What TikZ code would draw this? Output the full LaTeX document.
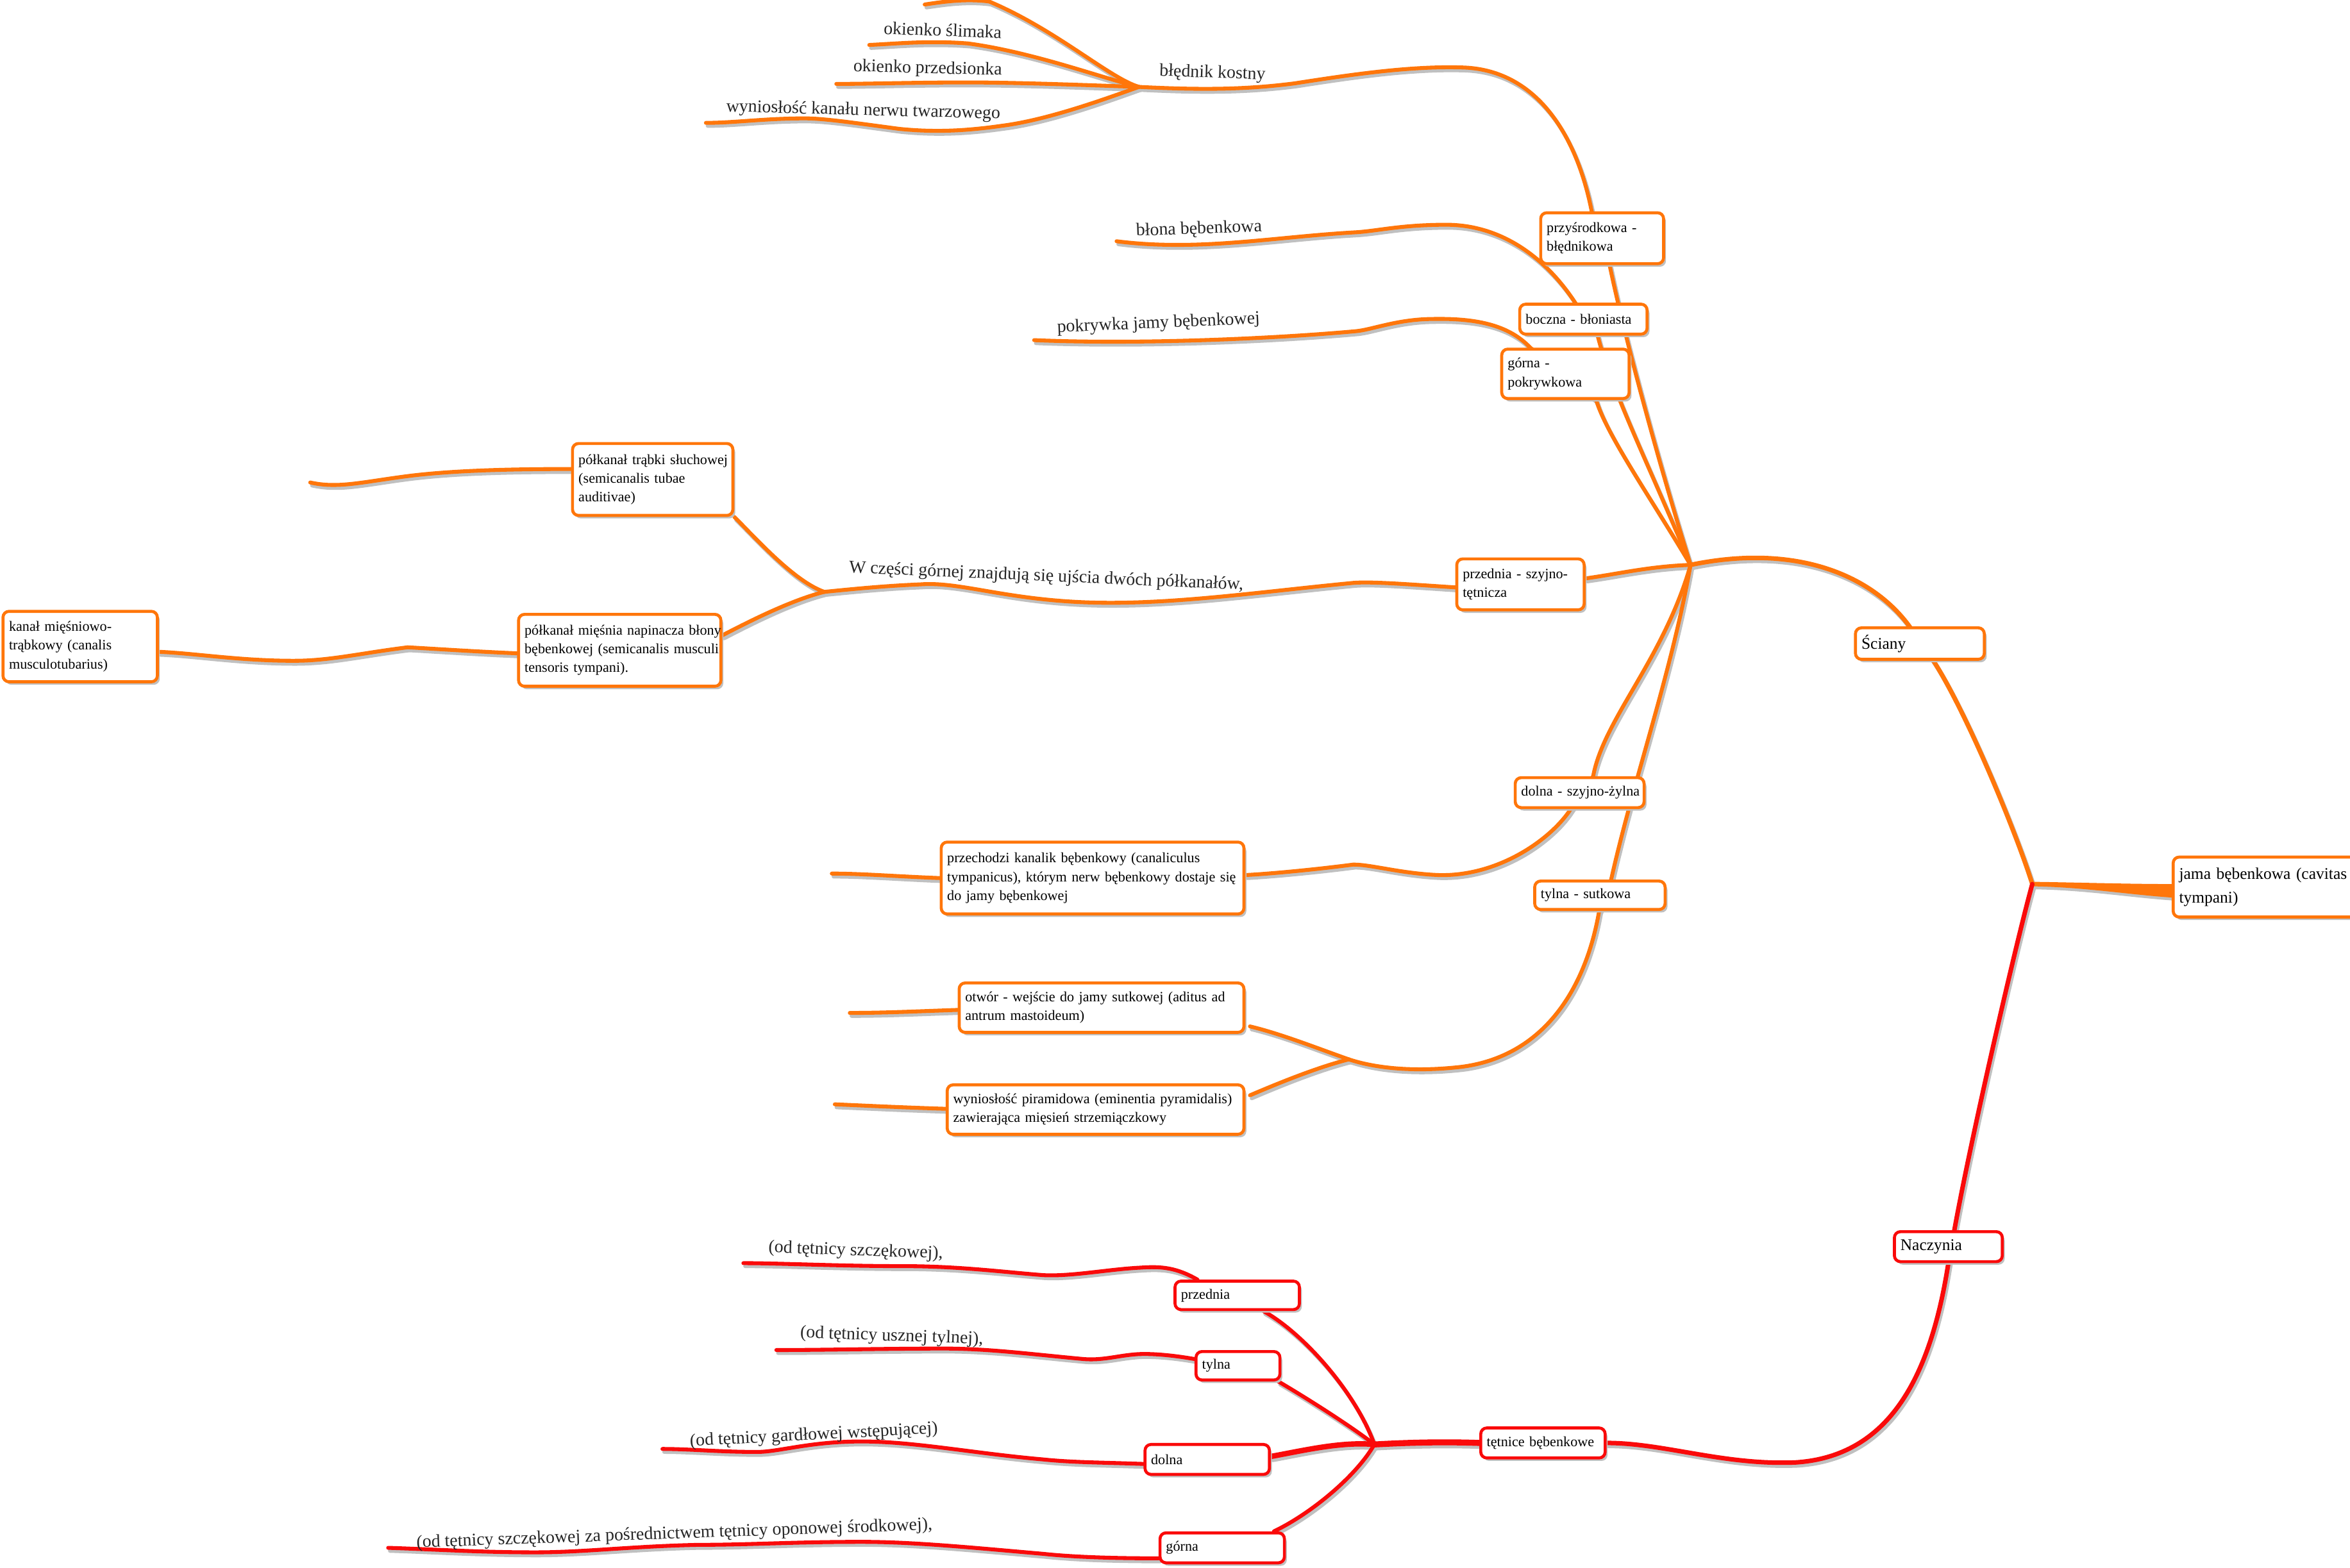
\documentclass[tikz,border=0pt]{standalone}
\usepackage{fontspec}
\setmainfont{Liberation Serif}
\usetikzlibrary{shadows,calc}
\definecolor{orC}{RGB}{255,118,10}
\definecolor{rdC}{RGB}{250,10,10}
\definecolor{shC}{RGB}{192,192,192}
\pgfdeclarelayer{back}
\pgfdeclarelayer{bg}
\pgfsetlayers{back,bg,main}
\tikzset{
  wbox/.style={draw=orC, line width=0.1cm, fill=white, rounded corners=0.2cm,
    anchor=north west, align=left, inner xsep=0.18cm, inner ysep=0pt,
    font=\fontsize{13.5}{17.8}\selectfont,
    drop shadow={shadow xshift=0.08cm, shadow yshift=-0.1cm, fill=shC, opacity=1}},
  rbox/.style={wbox, draw=rdC},
  bigtext/.style={font=\fontsize{15.5}{22.8}\selectfont},
  lbl/.style={font=\fontsize{17}{20}\selectfont, inner sep=0pt, text=black!85},
  oedge/.style={draw=orC, line width=0.13cm, line cap=round},
  redge/.style={oedge, draw=rdC},
  shedge/.style={draw=shC, line width=0.13cm, line cap=round},
}
% all connectors; #1 = style of orange ones, #2 = style of red ones, #3 = fill of the root taper
\newcommand\mmedges[3]{%
\fill[#3] ($(root.west)+(0,-2)$) -- ($(root.west)+(0,7)$) .. controls (1420,597) and (1390,592) .. ($(h0)+(0,1.5)$) -- ($(h0)+(0,-1.5)$) .. controls (1390,589) and (1420,590) .. cycle;
\draw[#1, line width=0.15cm] (h0) .. controls (1345,555) and (1312,475) .. ($(sciany.south west)+(53,0)$) -- ($(sciany.north west)+(37,0)$) .. controls (1250,385) and (1200,362) .. (h1);
\draw[#2, line width=0.15cm] (h0) .. controls (1345,630) and (1315,760) .. ($(naczynia.north west)+(41,0)$) -- ($(naczynia.south west)+(37,0)$) .. controls (1288,920) and (1260,972) .. (1198,976) .. controls (1150,978) and (1110,963) .. (tetnice.east);
\draw[#1] (h1) .. controls (1110,320) and (1085,230) .. ($(przysr.south west)+(47,0)$) -- ($(przysr.north west)+(35,0)$) .. controls (1052,90) and (1025,46) .. (975,45) .. controls (940,44) and (900,50) .. (864,55.6) .. controls (830,60) and (800,60) .. (h2);
\draw[#1] (h2) .. controls (740,52) and (705,20) .. (660,1) .. controls (645,-1) and (630,1) .. (eTop);
\draw[#1] (h2) .. controls (735,52) and (690,35) .. (646,29) .. controls (620,27) and (600,29) .. (eSlim);
\draw[#1] (h2) .. controls (730,57) and (680,55) .. (645,55) .. controls (610,55) and (580,56) .. (ePrz);
\draw[#1] (h2) .. controls (740,65) and (700,80) .. (668,84) .. controls (640,88) and (620,88) .. (600,86) .. controls (570,82) and (550,79) .. (537,79) .. controls (510,79) and (490,82) .. (eWyn);
\draw[#1] (h1) .. controls (1100,310) and (1075,260) .. ($(boczna.south west)+(53,0)$) -- ($(boczna.north west)+(38,0)$) .. controls (1030,170) and (1000,150) .. (965,150) .. controls (935,150) and (920,154) .. (905,155) .. controls (850,158) and (800,168) .. (eBlona);
\draw[#1] (h1) .. controls (1100,330) and (1072,290) .. ($(gorna.south west)+(64,0)$) -- ($(gorna.north west)+(20,0)$) .. controls (1005,215) and (980,212) .. (951,213) .. controls (930,214) and (915,220) .. (905,221) .. controls (850,226) and (760,230) .. (ePokr);
\draw[#1] (h1) .. controls (1100,378) and (1080,383) .. ($(przednia.north east)+(0,14)$);
\draw[#1] ($(przednia.north west)+(0,20)$) .. controls (940,390) and (915,388) .. (903,389) .. controls (840,395) and (780,404) .. (725,402) .. controls (670,400) and (640,388) .. (614,390) .. controls (590,391) and (570,393) .. (h3);
\draw[#1] (h3) .. controls (530,388) and (505,360) .. (trabki.south east);
\draw[#1] (h3) .. controls (530,400) and (505,412) .. ($(miesnia.north east)+(0,15)$);
\draw[#1] ($(trabki.north west)+(0,18)$) .. controls (340,313) and (300,314) .. (270,318) .. controls (240,322) and (225,326) .. (eTrab);
\draw[#1] ($(miesnia.north west)+(0,27)$) .. controls (320,435) and (290,433) .. (272,432) .. controls (240,436) and (220,441) .. (196,441) .. controls (160,441) and (130,436) .. ($(kanal.north east)+(0,28)$);
\draw[#1] (h1) .. controls (1110,440) and (1070,480) .. ($(dolna.north west)+(53,0)$) -- ($(dolna.south west)+(38,0)$) .. controls (1035,560) and (1000,585) .. (960,584) .. controls (935,583) and (915,577) .. (903,577) .. controls (880,580) and (850,583) .. ($(przech.north east)+(0,23)$);
\draw[#1] ($(przech.north west)+(0,25)$) .. controls (600,585) and (575,583) .. (ePrzech);
\draw[#1] (h1) .. controls (1115,450) and (1090,520) .. ($(tylna.north west)+(52,0)$) -- ($(tylna.south west)+(44,0)$) .. controls (1058,660) and (1030,705) .. (975,712) .. controls (940,716) and (915,712) .. (h4);
\draw[#1] (h4) .. controls (880,700) and (855,690) .. ($(otwor.south east)+(3,-5)$);
\draw[#1] (h4) .. controls (880,712) and (855,722) .. ($(piram.north east)+(3,8)$);
\draw[#1] ($(otwor.north west)+(0,19)$) .. controls (610,675) and (590,676) .. (eOtw);
\draw[#1] ($(piram.north west)+(0,17)$) .. controls (600,739) and (580,738) .. (ePir);
\draw[#2, line width=0.2cm] (tetnice.west) .. controls (960,962) and (935,963) .. (h5);
\draw[#2] (h5) .. controls (905,930) and (870,890) .. ($(rprzed.south west)+(60,0)$);
\draw[#2] ($(rprzed.north west)+(16,0)$) .. controls (785,846) and (775,845) .. (761,846) .. controls (740,847) and (715,852) .. (696,851) .. controls (670,849) and (640,845) .. (603,845) .. controls (560,845) and (520,843) .. (eRp);
\draw[#2] (h5) .. controls (903,953) and (875,935) .. ($(rtyl.south east)+(-2,0)$);
\draw[#2] ($(rtyl.north west)+(0,6)$) .. controls (780,904) and (765,903) .. (756,904) .. controls (745,905) and (735,908) .. (723,907) .. controls (690,904) and (660,900) .. (630,900) .. controls (590,900) and (550,901) .. (eRt);
\draw[#2, line width=0.18cm] (h5) .. controls (895,962) and (870,968) .. ($(rdol.north east)+(0,9)$);
\draw[#2] ($(rdol.north west)+(0,14)$) .. controls (735,976) and (715,976) .. (696,974) .. controls (650,970) and (610,962) .. (575,962) .. controls (540,962) and (520,969) .. (505,969) .. controls (480,969) and (460,967) .. (eRd);
\draw[#2] (h5) .. controls (905,985) and (875,1010) .. ($(rgor.north east)+(-8,0)$);
\draw[#2] ($(rgor.north west)+(0,18)$) .. controls (740,1040) and (715,1039) .. (696,1037) .. controls (650,1033) and (610,1029) .. (575,1029) .. controls (530,1029) and (500,1031) .. (466,1031) .. controls (420,1032) and (390,1036) .. (357,1036) .. controls (320,1036) and (290,1034) .. (eRg);
}
\begin{document}
\begin{tikzpicture}[x=0.05cm, y=-0.05cm]
\useasboundingbox (0,0) rectangle (1568,1046.4);
\begin{pgfonlayer}{back}
\fill[white] (0,0) rectangle (1568,1046.4);
\end{pgfonlayer}

% ---------- nodes ----------
\node[wbox, bigtext, minimum width=8.6cm, minimum height=2cm, text width=8.2cm] (root) at (1449,571) {\mbox{jama bębenkowa (cavitas}\\tympani)};
\node[wbox, bigtext, minimum width=4.3cm, minimum height=1.05cm, text width=3.9cm] (sciany) at (1237,418) {Ściany};
\node[rbox, bigtext, minimum width=3.6cm, minimum height=1.0cm, text width=3.2cm] (naczynia) at (1263,821) {Naczynia};

\node[wbox, minimum width=4.1cm, minimum height=1.7cm, text width=3.7cm] (przysr) at (1027,141) {\mbox{przyśrodkowa -}\\błędnikowa};
\node[wbox, minimum width=4.25cm, minimum height=1.0cm, text width=3.85cm] (boczna) at (1013,202) {\mbox{boczna - błoniasta}};
\node[wbox, minimum width=4.25cm, minimum height=1.65cm, text width=3.85cm] (gorna) at (1001,232) {górna -\\pokrywkowa};
\node[wbox, minimum width=4.25cm, minimum height=1.7cm, text width=3.85cm] (przednia) at (971,372) {\mbox{przednia - szyjno-}\\tętnicza};
\node[wbox, minimum width=4.3cm, minimum height=1.0cm, text width=3.9cm] (dolna) at (1010,518) {\mbox{dolna - szyjno-żylna}};
\node[wbox, minimum width=4.35cm, minimum height=0.95cm, text width=3.95cm] (tylna) at (1023,587) {\mbox{tylna - sutkowa}};

\node[wbox, minimum width=5.35cm, minimum height=2.4cm, text width=4.95cm] (trabki) at (381,295) {\mbox{półkanał trąbki słuchowej}\\\mbox{(semicanalis tubae}\\auditivae)};
\node[wbox, minimum width=6.75cm, minimum height=2.4cm, text width=6.35cm] (miesnia) at (345,409) {\mbox{półkanał mięśnia napinacza błony}\\\mbox{bębenkowej (semicanalis musculi}\\\mbox{tensoris tympani).}};
\node[wbox, minimum width=5.15cm, minimum height=2.35cm, text width=4.75cm] (kanal) at (1,407) {\mbox{kanał mięśniowo-}\\\mbox{trąbkowy (canalis}\\musculotubarius)};
\node[wbox, minimum width=10.1cm, minimum height=2.4cm, text width=9.7cm] (przech) at (627,561) {\mbox{przechodzi kanalik bębenkowy (canaliculus}\\\mbox{tympanicus), którym nerw bębenkowy dostaje się}\\\mbox{do jamy bębenkowej}};
\node[wbox, minimum width=9.5cm, minimum height=1.65cm, text width=9.1cm] (otwor) at (639,655) {\mbox{otwór - wejście do jamy sutkowej (aditus ad}\\\mbox{antrum mastoideum)}};
\node[wbox, minimum width=9.9cm, minimum height=1.65cm, text width=9.5cm] (piram) at (631,723) {\mbox{wyniosłość piramidowa (eminentia pyramidalis)}\\\mbox{zawierająca mięsień strzemiączkowy}};

\node[rbox, minimum width=4.15cm, minimum height=1.0cm, text width=3.75cm] (tetnice) at (987,952) {\mbox{tętnice bębenkowe}};
\node[rbox, minimum width=4.15cm, minimum height=0.95cm, text width=3.75cm] (rprzed) at (783,854) {przednia};
\node[rbox, minimum width=2.8cm, minimum height=0.95cm, text width=2.4cm] (rtyl) at (797,901) {tylna};
\node[rbox, minimum width=4.15cm, minimum height=1.0cm, text width=3.75cm] (rdol) at (763,963) {dolna};
\node[rbox, minimum width=4.15cm, minimum height=1.0cm, text width=3.75cm] (rgor) at (773,1022) {górna};

% ---------- branch labels ----------
\node[lbl, rotate=-2] (lslim) at (629,20) {okienko ślimaka};
\node[lbl, rotate=-1.5] (lprzed) at (619,46) {okienko przedsionka};
\node[lbl, rotate=-1.5] (lwyn) at (576,74) {wyniosłość kanału nerwu twarzowego};
\node[lbl, rotate=-2] (lbled) at (809,49) {błędnik kostny};
\node[lbl, rotate=2] (lblona) at (800,153) {błona bębenkowa};
\node[lbl, rotate=2.5] (lpokr) at (773,216) {pokrywka jamy bębenkowej};
\node[lbl, rotate=-2.5] (lczesci) at (698,385) {W części górnej znajdują się ujścia dwóch półkanałów,};
\node[lbl, rotate=-2] (lr1) at (571,835) {(od tętnicy szczękowej),};
\node[lbl, rotate=-2] (lr2) at (595,892) {(od tętnicy usznej tylnej),};
\node[lbl, rotate=3] (lr3) at (543,958) {(od tętnicy gardłowej wstępującej)};
\node[lbl, rotate=2] (lr4) at (450,1024) {(od tętnicy szczękowej za pośrednictwem tętnicy oponowej środkowej),};

% ---------- hubs and free ends ----------
\coordinate (h0) at (1356,590);
\coordinate (h1) at (1128,377);
\coordinate (h2) at (760,58);
\coordinate (h3) at (550,395);
\coordinate (h4) at (900,707);
\coordinate (h5) at (917,964);
\coordinate (eTop) at (617,3);
\coordinate (eSlim) at (580,30);
\coordinate (ePrz) at (558,56);
\coordinate (eWyn) at (471,82);
\coordinate (eBlona) at (745,161);
\coordinate (ePokr) at (690,227);
\coordinate (eTrab) at (207,322);
\coordinate (ePrzech) at (555,583);
\coordinate (eOtw) at (567,676);
\coordinate (ePir) at (557,737);
\coordinate (eRp) at (496,843);
\coordinate (eRt) at (518,901);
\coordinate (eRd) at (442,967);
\coordinate (eRg) at (259,1033);

% ---------- connectors (shadow copy, then the coloured lines) ----------
\begin{pgfonlayer}{bg}
\begin{scope}[transform canvas={shift={(0.06cm,-0.1cm)}}]
\mmedges{shedge}{shedge}{shC}
\end{scope}
\mmedges{oedge}{redge}{orC}
\end{pgfonlayer}
\end{tikzpicture}
\end{document}
